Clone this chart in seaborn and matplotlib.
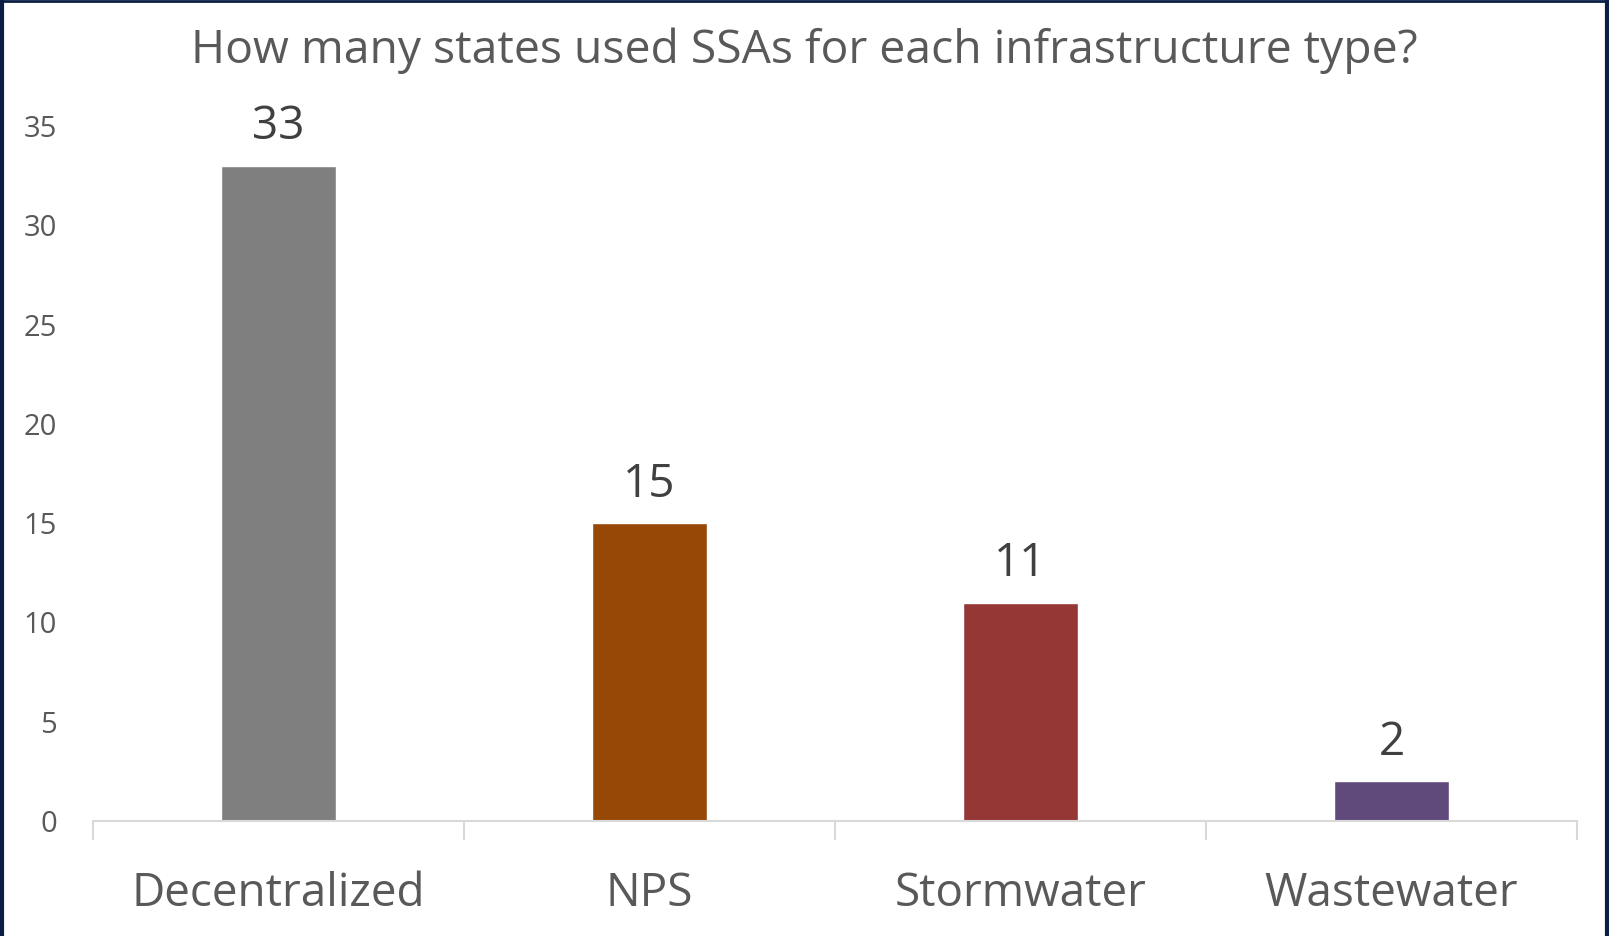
import numpy as np
import matplotlib.pyplot as plt
import seaborn as sns
from matplotlib.lines import Line2D

# Dados
categorias = ['Decentralized', 'NPS', 'Stormwater', 'Wastewater']
valores = [33, 15, 11, 2]
cores = ['#7f7f7f', '#974706', '#953735', '#604a7b']
yticks = [0, 5, 10, 15, 20, 25, 30, 35]

sns.set_style("white")
plt.rcParams['font.family'] = ['Open Sans', 'DejaVu Sans']

fig = plt.figure(figsize=(16.09, 9.36), dpi=100)
ax = fig.add_axes([93 / 1609, 1 - 821 / 936, (1577 - 93) / 1609, (821 - 126) / 936])

sns.barplot(x=categorias, y=valores, hue=categorias, palette=cores,
            width=0.31, saturation=1, legend=False, ax=ax)

ax.set_ylim(0, 35)
ax.set_xlim(-0.5, 3.5)
ax.set_yticks(yticks)
ax.tick_params(axis='y', length=0, labelsize=21, labelcolor='#595959', pad=26)
ax.tick_params(axis='x', which='major', length=0, labelsize=33, labelcolor='#595959', pad=36)
ax.set_xticks([-0.5, 0.5, 1.5, 2.5, 3.5], minor=True)
ax.tick_params(axis='x', which='minor', bottom=True, direction='out',
               length=14, width=1.5, color='#d9d9d9')

sns.despine(ax=ax, left=True)
ax.spines['bottom'].set_color('#d9d9d9')
ax.spines['bottom'].set_linewidth(1.5)
ax.set_xlabel('')
ax.set_ylabel('')

for c in ax.containers:
    ax.bar_label(c, fontsize=33, color='#404040', padding=11)

fig.text(0.5, 1 - 51 / 936, 'How many states used SSAs for each infrastructure type?',
         ha='center', va='center', fontsize=33.3, color='#595959')

# borda azul escura
borda = '#0b1f45'
fig.add_artist(Line2D([0.0015, 0.0015], [0, 1], transform=fig.transFigure, color=borda, lw=3))
fig.add_artist(Line2D([0, 1], [0.999, 0.999], transform=fig.transFigure, color=borda, lw=2))
fig.add_artist(Line2D([0.9985, 0.9985], [0, 1], transform=fig.transFigure, color=borda, lw=3))

fig.savefig('out.png', dpi=100)
